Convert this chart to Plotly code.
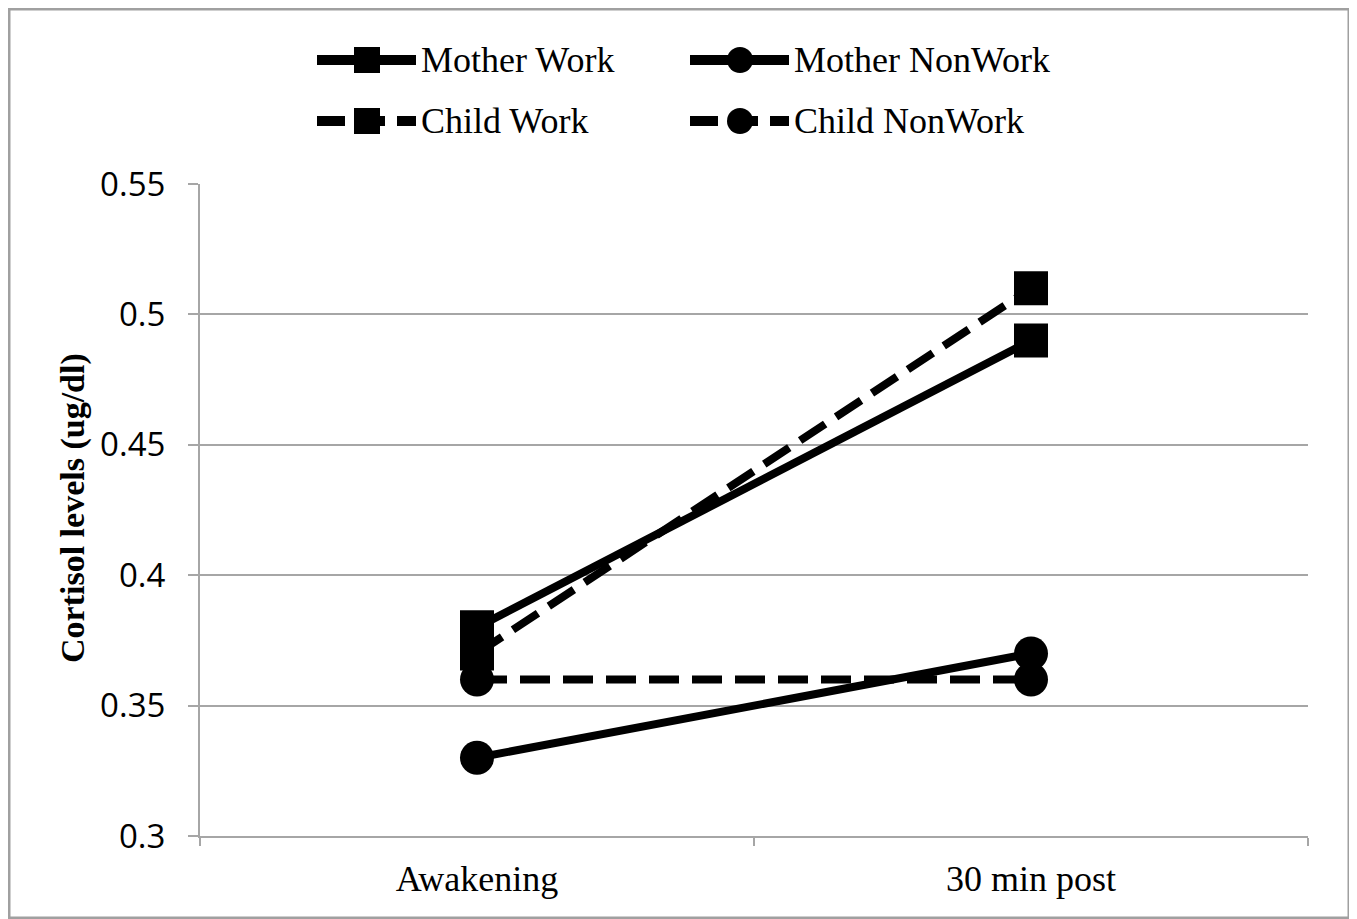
import plotly.graph_objects as go

categories = ["Awakening", "30 min post"]
mother_work = [0.38, 0.49]
mother_nonwork = [0.33, 0.37]
child_work = [0.37, 0.51]
child_nonwork = [0.36, 0.36]
series_names = ["Mother Work", "Mother NonWork", "Child Work", "Child NonWork"]
y_ticks = [0.3, 0.35, 0.4, 0.45, 0.5, 0.55]
y_ticktext = ["0.3", "0.35", "0.4", "0.45", "0.5", "0.55"]

# page has an 8px body margin; work in reference-page pixels and shift
OFF = 8
W, H = 1357 - OFF, 919 - OFF
L, R, T, B = 200 - OFF, 1308 - OFF, 184 - OFF, 836 - OFF
PW, PH = R - L, B - T

def px(x):
    return (x - OFF - L) / PW

def py(y):
    return (B - (y - OFF)) / PH

DASH = "30px,13px"
fig = go.Figure()
specs = [
    (mother_work, series_names[0], "square", "solid"),
    (mother_nonwork, series_names[1], "circle", "solid"),
    (child_work, series_names[2], "square", DASH),
    (child_nonwork, series_names[3], "circle", DASH),
]
for vals, name, sym, dash in specs:
    fig.add_trace(go.Scatter(
        x=categories, y=vals, name=name, mode="lines+markers",
        line=dict(color="black", width=8, dash=dash),
        marker=dict(symbol=sym, size=34, color="black", line=dict(width=0)),
        showlegend=False,
    ))

shapes = []
annotations = []
# figure border
shapes.append(dict(type="rect", xref="paper", yref="paper",
                   x0=px(9), x1=px(1349), y0=py(9), y1=py(918),
                   line=dict(color="#a0a0a0", width=3), fillcolor="rgba(0,0,0,0)", layer="below"))

# manual legend
legend_items = [
    (series_names[0], "square", "solid", 317, 60),
    (series_names[1], "circle", "solid", 690, 60),
    (series_names[2], "square", "28px,12px", 317, 121),
    (series_names[3], "circle", "28px,12px", 690, 121),
]
for name, sym, dash, x0, yc in legend_items:
    shapes.append(dict(type="line", xref="paper", yref="paper",
                       x0=px(x0), x1=px(x0 + 99), y0=py(yc), y1=py(yc),
                       line=dict(color="black", width=10, dash=dash)))
    cx = x0 + 50
    half = 13
    shapes.append(dict(type="rect" if sym == "square" else "circle",
                       xref="paper", yref="paper",
                       x0=px(cx - half), x1=px(cx + half), y0=py(yc - half), y1=py(yc + half),
                       line=dict(width=0), fillcolor="black"))
    annotations.append(dict(text=name, xref="paper", yref="paper",
                            x=px(x0 + 102), y=py(yc), xanchor="left", yanchor="middle",
                            showarrow=False,
                            font=dict(family="Liberation Serif", size=36, color="black")))

# y-axis title
annotations.append(dict(text="<b>Cortisol levels (ug/dl)</b>", xref="paper", yref="paper",
                        x=px(73), y=py(508), textangle=-90, showarrow=False,
                        xanchor="center", yanchor="middle",
                        font=dict(family="Liberation Serif", size=34, color="black")))

fig.update_layout(
    width=W, height=H,
    margin=dict(l=L, r=W - R, t=T, b=H - B, pad=0),
    paper_bgcolor="white", plot_bgcolor="white",
    shapes=shapes, annotations=annotations,
    showlegend=False,
)
fig.update_xaxes(
    type="category", range=[-0.5, 1.5],
    showline=True, linecolor="#a6a6a6", linewidth=2,
    ticks="outside", tickson="boundaries", ticklen=8, tickcolor="#a6a6a6", tickwidth=2,
    showgrid=False, zeroline=False,
    tickfont=dict(family="Liberation Serif", size=36, color="black"),
    ticklabelstandoff=10,
)
fig.update_yaxes(
    range=[0.3, 0.55], tickvals=y_ticks, ticktext=y_ticktext,
    showline=True, linecolor="#a6a6a6", linewidth=2,
    ticks="outside", ticklen=10, tickcolor="#a6a6a6", tickwidth=2,
    showgrid=True, gridcolor="#a6a6a6", gridwidth=2, zeroline=False,
    tickfont=dict(family="Open Sans", size=33, color="black"),
    ticklabelstandoff=16,
)

fig.write_html("out.html")
